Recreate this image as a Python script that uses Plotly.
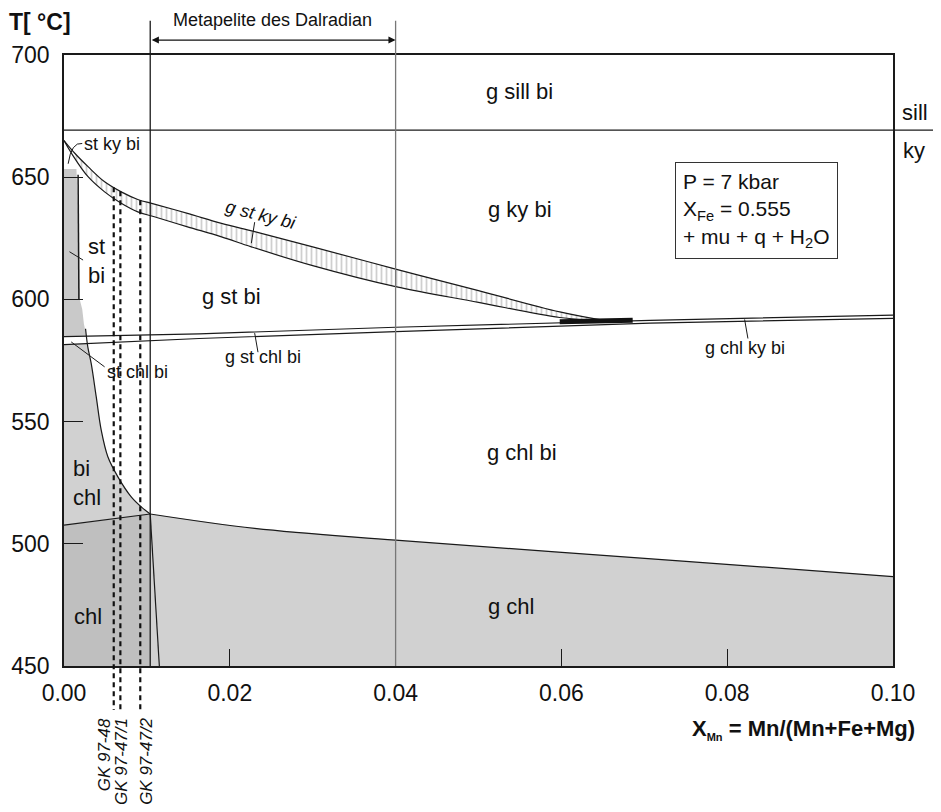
import numpy as np
import plotly.graph_objects as go

# ---------------- data ----------------
x_tick_vals = [0.00, 0.02, 0.04, 0.06, 0.08, 0.10]
x_tick_text = ["0.00", "0.02", "0.04", "0.06", "0.08", "0.10"]
y_tick_vals = [450, 500, 550, 600, 650, 700]

sill_ky_T = 669.3

band_upper_x = [0.0, 0.0013, 0.0029, 0.0049, 0.0069, 0.0089, 0.0109, 0.0149, 0.0190, 0.0230, 0.0300, 0.0400, 0.0500, 0.0598, 0.0655]
band_upper_T = [665.0, 659.8, 654.3, 648.1, 644.0, 640.9, 639.0, 635.2, 631.1, 627.7, 621.5, 612.4, 603.6, 594.9, 591.2]
band_lower_x = [0.0, 0.0009, 0.0029, 0.0049, 0.0069, 0.0089, 0.0109, 0.0149, 0.0190, 0.0226, 0.0300, 0.0400, 0.0500, 0.0598, 0.0655]
band_lower_T = [665.0, 659.8, 650.2, 644.0, 639.3, 635.8, 633.8, 629.7, 625.6, 621.5, 613.8, 605.2, 598.8, 592.6, 591.2]

chl_upper_x = [0.0, 0.0163, 0.0400, 0.0707, 0.1000]
chl_upper_T = [584.8, 585.9, 588.6, 591.4, 593.6]
chl_lower_x = [0.0, 0.0163, 0.0400, 0.0707, 0.1000]
chl_lower_T = [581.5, 584.0, 586.8, 590.3, 592.2]

thick_x = [0.0598, 0.0686]
thick_T = [590.9, 591.5]

stbi_x = [0.0, 0.0015, 0.0016, 0.0018, 0.0019, 0.0022, 0.0024, 0.0027, 0.0]
stbi_T = [653.4, 653.4, 645.0, 625.0, 600.0, 596.0, 590.0, 585.0, 584.8]
stbi_edge_x = [0.0017, 0.0018]
stbi_edge_T = [651.0, 600.0]

curve_x = [0.0026, 0.00287, 0.00328, 0.00389, 0.00449, 0.00529, 0.0065, 0.00811, 0.00932, 0.0104]
curve_T = [588.0, 580.6, 573.8, 560.1, 546.5, 535.6, 527.4, 519.2, 515.1, 512.2]

bichl_x = [0.0, 0.0028, 0.00328, 0.00389, 0.00449, 0.00529, 0.0065, 0.00811, 0.00932, 0.0104, 0.0]
bichl_T = [581.5, 581.9, 573.8, 560.1, 546.5, 535.6, 527.4, 519.2, 515.1, 512.2, 507.6]

chl_base_x = [0.0, 0.0104]
chl_base_T = [507.6, 512.2]

chl_field_x = [0.0, 0.0104, 0.0104, 0.0]
chl_field_T = [507.6, 512.2, 450.0, 450.0]

steep_x = [0.0104, 0.0115]
steep_T = [512.2, 450.0]

gchl_x = [0.0104, 0.0230, 0.0400, 0.0742, 0.1000]
gchl_T = [512.2, 506.3, 501.5, 493.0, 486.6]

dalradian_x = [0.0104, 0.0400]

sample_x = [0.0060, 0.0068, 0.0092]
sample_labels = ["GK 97-48", "GK 97-47/1", "GK 97-47/2"]

FONT = "Liberation Sans, Arial, sans-serif"
LC = "#1a1a1a"

fig = go.Figure()

def poly(x, y, color):
    fig.add_trace(go.Scatter(x=x, y=y, mode="lines", fill="toself", fillcolor=color,
                             line=dict(width=0), hoverinfo="skip", showlegend=False))

def line(x, y, width=1.2, color=LC, shape="linear", dash="solid"):
    fig.add_trace(go.Scatter(x=x, y=y, mode="lines", hoverinfo="skip", showlegend=False,
                             line=dict(width=width, color=color, shape=shape, dash=dash)))

# filled fields
gx = gchl_x + [gchl_x[-1], gchl_x[0]]
gy = gchl_T + [450.0, 450.0]
poly(gx, gy, "#d1d1d1")
poly(chl_field_x, chl_field_T, "#bfbfbf")
poly(bichl_x, bichl_T, "#d1d1d1")
poly(stbi_x, stbi_T, "#c9c9c9")

# hatched g st ky bi band
hx = band_upper_x + band_lower_x[::-1]
hy = band_upper_T + band_lower_T[::-1]
fig.add_trace(go.Scatter(x=hx, y=hy, mode="lines", fill="toself", line=dict(width=0),
                         fillcolor="white",
                         fillpattern=dict(shape="|", fgcolor="#a0a0a0", bgcolor="white",
                                          size=5, solidity=0.35),
                         hoverinfo="skip", showlegend=False))

# boundary lines
line(band_upper_x, band_upper_T, shape="spline")
line(band_lower_x, band_lower_T, shape="spline")
line(chl_upper_x, chl_upper_T)
line(chl_lower_x, chl_lower_T)
line(curve_x, curve_T, shape="spline")
line(chl_base_x, chl_base_T)
line(steep_x, steep_T)
line(gchl_x, gchl_T, shape="spline")
line([0.0, 0.1], [sill_ky_T, sill_ky_T])
line(stbi_edge_x, stbi_edge_T, width=1.5)
line(thick_x, thick_T, width=5, color="#111111")

shapes = []
# sill/ky line continues right of the frame
shapes.append(dict(type="line", xref="paper", yref="y", x0=1.0, x1=1.06,
                   y0=sill_ky_T, y1=sill_ky_T, line=dict(color=LC, width=1.2)))
# vertical lines bounding the Dalradian range, extended above the frame
for xv, col in zip(dalradian_x, [LC, "#777777"]):
    shapes.append(dict(type="line", xref="x", yref="paper", x0=xv, x1=xv,
                       y0=0, y1=1.056, line=dict(color=col, width=1.3)))
# dashed sample lines, starting on the upper band curve and running below the axis
for xs in sample_x:
    t0 = float(np.interp(xs, band_upper_x, band_upper_T))
    y0p = (t0 - 450.0) / 250.0
    shapes.append(dict(type="line", xref="x", yref="paper", x0=xs, x1=xs,
                       y0=y0p, y1=-0.072, line=dict(color="#111111", width=2.2, dash="5px,4px")))

# leader lines
leaders = [
    ((0.00066, 619.5), (0.0023, 616.1)),   # st bi
    ((0.00087, 582.6), (0.0049, 572.4)),   # st chl bi
    ((0.0230, 631.6), (0.0226, 623.0)),    # g st ky bi
    ((0.0230, 586.2), (0.0234, 578.4)),    # g st chl bi
    ((0.0821, 591.8), (0.0825, 584.0)),    # g chl ky bi
]
for (a, b) in leaders:
    shapes.append(dict(type="line", xref="x", yref="y", x0=a[0], y0=a[1], x1=b[0], y1=b[1],
                       line=dict(color=LC, width=1)))
shapes.append(dict(type="path", xref="x", yref="y",
                   path="M 0.0022,663.8 Q 0.0009,664.5 0.0005,655.5",
                   line=dict(color=LC, width=1)))

ann = []
def txt(x, y, s, size=22, xanchor="center", yanchor="middle", xref="x", yref="y", angle=0, **kw):
    ann.append(dict(x=x, y=y, xref=xref, yref=yref, text=s, showarrow=False,
                    xanchor=xanchor, yanchor=yanchor, textangle=angle,
                    font=dict(family=FONT, size=size, color="#111111"), **kw))

txt(0.055, 684.9, "g sill bi")
txt(0.055, 636.8, "g ky bi")
txt(0.0202, 601.0, "g st bi")
txt(0.0552, 537.5, "g chl bi")
txt(0.0539, 474.5, "g chl")
txt(0.0010, 470.4, "chl", xanchor="left")
txt(0.0009, 525.0, "bi<br>chl", xanchor="left", align="left")
txt(0.0027, 615.7, "st<br>bi", xanchor="left", align="left")
txt(0.0049, 570.2, "st chl bi", size=18, xanchor="left")
txt(0.0022, 663.6, "st ky bi", size=18, xanchor="left")
txt(0.0238, 634.6, "<i>g st ky bi</i>", size=18, angle=14)
txt(0.0240, 576.6, "g st chl bi", size=18)
txt(0.0822, 580.1, "g chl ky bi", size=18)

# info box
ann.append(dict(x=0.0737, y=656.2, xref="x", yref="y", xanchor="left", yanchor="top",
                text="P = 7 kbar<br>X<sub>Fe</sub> = 0.555<br>+ mu + q + H<sub>2</sub>O",
                showarrow=False, align="left", bordercolor="#333333", borderwidth=1,
                borderpad=7, bgcolor="white",
                font=dict(family=FONT, size=21, color="#111111")))

# sill / ky labels outside the frame
txt(1.027, 676.3, "sill", xref="paper")
txt(1.025, 661.1, "ky", xref="paper")

# Dalradian range label and arrow
txt(0.0252, 1.057, "Metapelite des Dalradian", size=18, xref="x", yref="paper")
ann.append(dict(x=dalradian_x[1], y=1.0245, xref="x", yref="paper",
                ax=dalradian_x[0], ay=0, axref="x", ayref="pixel", text="",
                showarrow=True, arrowhead=2, arrowside="end+start", arrowsize=1.1,
                arrowwidth=1.3, arrowcolor="#111111", standoff=0, startstandoff=0))

# axis titles
txt(-0.0284, 1.054, "<b>T[ °C]</b>", size=23, xref="paper", yref="paper")
txt(0.8926, -0.1047, "<b>X<sub><span style='font-size:11px'>Mn</span></sub> = Mn/(Mn+Fe+Mg)</b>",
    size=22, xref="paper", yref="paper")

# sample labels
for xs, lab, xsh in zip(sample_x, sample_labels, [-9, 1, 6]):
    ann.append(dict(x=xs, y=-0.082, xref="x", yref="paper", text="<i>" + lab + "</i>",
                    showarrow=False, textangle=-90, xanchor="center", yanchor="top",
                    xshift=xsh, font=dict(family=FONT, size=17, color="#111111")))

# page body has an 8px margin: size the figure so the page does not scroll and the
# plot frame lands where the reference has it
fig.update_layout(
    width=933, height=796,
    margin=dict(l=56, r=48, t=47, b=138, autoexpand=False),
    paper_bgcolor="white", plot_bgcolor="white",
    shapes=shapes, annotations=ann,
    font=dict(family=FONT, size=22, color="#111111"),
    showlegend=False,
)
fig.update_xaxes(range=[0, 0.1], tickvals=x_tick_vals, ticktext=x_tick_text,
                 ticks="inside", ticklen=17, tickwidth=1.3, tickcolor=LC, automargin=False,
                 showgrid=False, zeroline=False, showline=True, linecolor=LC, linewidth=1.5,
                 mirror=True, tickfont=dict(family=FONT, size=23, color="#111111"),
                 ticklabelstandoff=6)
fig.update_yaxes(range=[450, 700], tickvals=y_tick_vals, automargin=False,
                 ticks="inside", ticklen=19, tickwidth=1.3, tickcolor=LC,
                 showgrid=False, zeroline=False, showline=True, linecolor=LC, linewidth=1.5,
                 mirror=True, tickfont=dict(family=FONT, size=23, color="#111111"),
                 ticklabelstandoff=8)

fig.write_html("out.html")
